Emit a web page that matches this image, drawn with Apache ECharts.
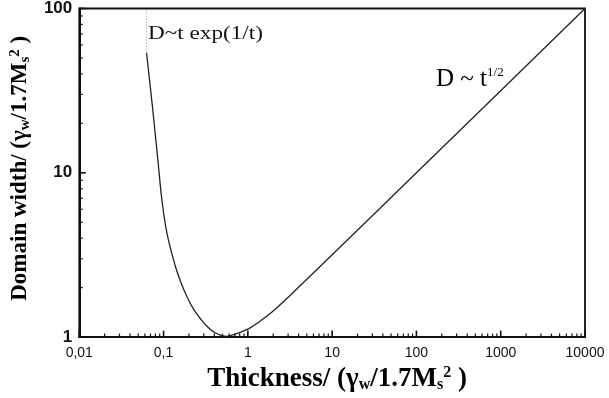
<!DOCTYPE html>
<html><head><meta charset="utf-8">
<script src="https://cdn.jsdelivr.net/npm/echarts@6/dist/echarts.min.js"></script>
<style>html,body{margin:0;padding:0;background:#fff}#c{width:609px;height:398px}</style>
</head><body><div id="c"></div>
<script>
// Curve D(t)
const thickness = [0.0628, 0.0728, 0.0798, 0.0873, 0.0957, 0.1097, 0.1377, 0.162, 0.191, 0.225, 0.272, 0.330, 0.399, 0.497, 0.555, 0.618, 0.813, 1.04, 1.40, 2.0, 3.19, 4.19, 10, 30, 100, 1000, 10000];
const domainWidth = [53.8, 27.0, 17.1, 10.8, 6.8, 4.30, 2.71, 2.13, 1.75, 1.49, 1.30, 1.16, 1.07, 1.02, 1.01, 1.02, 1.07, 1.13, 1.25, 1.44, 1.80, 2.06, 3.17, 5.48, 10, 31.6, 100];
// dotted continuation above the curve start
const cutoffT = [0.0628, 0.0628];
const cutoffD = [53.8, 100];
// ticks and tick labels
const xTickValues = [0.01, 0.1, 1, 10, 100, 1000, 10000];
const xTickLabels = ['0,01', '0,1', '1', '10', '100', '1000', '10000'];
const yTickValues = [1, 10, 100];
const yTickLabels = ['1', '10', '100'];
const xMinorTicks = [0.02,0.03,0.04,0.05,0.06,0.07,0.08,0.09, 0.2,0.3,0.4,0.5,0.6,0.7,0.8,0.9, 2,3,4,5,6,7,8,9, 20,30,40,50,60,70,80,90, 200,300,400,500,600,700,800,900, 2000,3000,4000,5000,6000,7000,8000,9000];
const yMinorTicks = [2,3,4,5,6,7,8,9, 20,30,40,50,60,70,80,90];

function lbl(values, labels) {
  return function (v) {
    for (let i = 0; i < values.length; i++) {
      if (Math.abs(Math.log10(v) - Math.log10(values[i])) < 1e-6) return labels[i];
    }
    return '';
  };
}
function titleRich(size, sub, shift, lead) {
  const base = {fontFamily: 'Liberation Serif', fontWeight: 'bold', color: '#000'};
  return {
    f: Object.assign({}, base, {fontSize: size, padding: [0, 0, 0, lead]}),
    b: Object.assign({}, base, {fontSize: size}),
    s: Object.assign({}, base, {fontSize: sub, padding: [shift, 0, 0, 0]}),
    p: Object.assign({}, base, {fontSize: sub, padding: [0, 0, shift, 0]})
  };
}
const axisTitleX = '{f|Thickness/ (γ}{s|w}{b|/1.7M}{s|s}{p|2}{b| )}';
const axisTitleY = '{f|Domain width/ (γ}{s|w}{b|/1.7M}{s|s}{p|2}{b| )}';
const lineColor = '#111';

function tickSeries(data, dx, dy, w) {
  return {
    type: 'custom', xAxisIndex: 0, yAxisIndex: 0, silent: true, clip: false, z: 3,
    data: data,
    renderItem: function (params, api) {
      const p = api.coord([api.value(0), api.value(1)]);
      return {type: 'line', shape: {x1: p[0], y1: p[1], x2: p[0] + dx, y2: p[1] + dy},
              style: {stroke: lineColor, lineWidth: w}};
    }
  };
}

const chart = echarts.init(document.getElementById('c'));
chart.setOption({
  animation: false,
  backgroundColor: '#fff',
  grid: {left: 79, right: 24, top: 5, bottom: 59, show: true, borderColor: '#111', borderWidth: 1.8, backgroundColor: 'transparent'},
  xAxis: {
    type: 'log', logBase: 10, min: 0.01, max: 10000, position: 'bottom',
    axisLine: {show: true, lineStyle: {color: lineColor, width: 2}},
    axisTick: {show: false},
    splitLine: {show: false},
    axisLabel: {formatter: lbl(xTickValues, xTickLabels), margin: 9, fontFamily: 'Liberation Sans', fontSize: 14, color: '#111'},
    name: axisTitleX, nameLocation: 'middle', nameGap: 22,
    nameTextStyle: {rich: titleRich(27, 16, 12, 10)}
  },
  yAxis: {
    type: 'log', logBase: 10, min: 1, max: 100, position: 'left',
    axisLine: {show: true, lineStyle: {color: lineColor, width: 2}},
    axisTick: {show: false},
    splitLine: {show: false},
    axisLabel: {formatter: lbl(yTickValues, yTickLabels), margin: 7, fontFamily: 'Liberation Sans', fontWeight: 'bold', fontSize: 17, color: '#111'},
    name: axisTitleY, nameLocation: 'middle', nameGap: 38, nameRotate: 90,
    nameTextStyle: {rich: titleRich(23, 15, 10, 9)}
  },
  series: [{
    type: 'line',
    data: thickness.map((t, i) => [t, domainWidth[i]]),
    smooth: 0.4, showSymbol: false, symbol: 'none',
    lineStyle: {color: '#222', width: 1.3}
  }, {
    type: 'line',
    data: cutoffT.map((t, i) => [t, cutoffD[i]]),
    showSymbol: false, symbol: 'none',
    lineStyle: {color: '#999', width: 1, type: [1, 2]}
  },
  tickSeries(xMinorTicks.map(v => [v, 1]), 0, -3.5, 1.2),
  tickSeries(yMinorTicks.map(v => [0.01, v]), 3.5, 0, 1.2),
  tickSeries(xTickValues.map(v => [v, 1]), 0, -6.5, 1.6),
  tickSeries(yTickValues.map(v => [0.01, v]), 6.5, 0, 1.6)
  ],
  graphic: [{
    type: 'text', x: 148, y: 25, scaleX: 1.22,
    style: {text: 'D~t exp(1/t)', font: '19px "Liberation Serif"', fill: '#111'}
  }, {
    type: 'text', left: 436, top: 66,
    style: {
      text: '{a|D ~ t}{b|1/2}',
      rich: {
        a: {fontFamily: 'Liberation Serif', fontSize: 25, color: '#111'},
        b: {fontFamily: 'Liberation Serif', fontSize: 13, color: '#111', padding: [0, 0, 14, 0]}
      }
    }
  }]
});
</script>
</body></html>
